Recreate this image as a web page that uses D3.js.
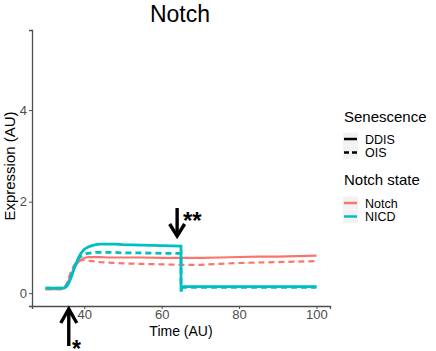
<!DOCTYPE html>
<html><head><meta charset="utf-8">
<script src="https://cdn.jsdelivr.net/npm/d3@7"></script>
<style>body{margin:0;background:#fff;} text{font-family:"Liberation Sans",Arial,sans-serif;}</style>
</head><body><svg id="c" width="436" height="351"></svg>
<script>
const time = [30,34,35,35.5,36,36.5,37,37.5,38,38.5,39,39.5,40,41,42,43,44,46,48,50,55,60,65,65.01,65.3,66,70,75,80,85,90,95,100];
const nicdDDIS = [0.11,0.11,0.12,0.15,0.22,0.32,0.44,0.56,0.67,0.77,0.85,0.91,0.96,1.01,1.04,1.06,1.07,1.07,1.07,1.06,1.05,1.04,1.03,0.03,0.14,0.145,0.145,0.145,0.145,0.145,0.145,0.145,0.145];
const nicdOIS = [0.11,0.11,0.13,0.17,0.25,0.36,0.48,0.59,0.68,0.75,0.80,0.83,0.85,0.87,0.88,0.89,0.89,0.89,0.89,0.88,0.88,0.87,0.87,0.12,0.13,0.13,0.13,0.13,0.13,0.13,0.13,0.13,0.13];
const notchDDIS = [0.09,0.09,0.11,0.18,0.28,0.38,0.48,0.56,0.63,0.68,0.72,0.75,0.77,0.79,0.79,0.79,0.79,0.78,0.78,0.78,0.78,0.77,0.77,0.77,0.77,0.77,0.77,0.78,0.79,0.80,0.80,0.81,0.82];
const notchOIS = [0.09,0.09,0.13,0.22,0.34,0.45,0.55,0.62,0.67,0.70,0.72,0.72,0.72,0.71,0.70,0.69,0.68,0.67,0.66,0.65,0.64,0.63,0.62,0.62,0.62,0.62,0.62,0.64,0.66,0.67,0.68,0.69,0.70];
const xTicks = [40,60,80,100];
const yTicks = [0,2,4];
const senescence = ["DDIS","OIS"];
const notchStates = ["Notch","NICD"];
const colors = {Notch:"#F8766D", NICD:"#00BFC4"};

const svg = d3.select("#c");
const x = d3.scaleLinear().domain([26.5,103.5]).range([32,330]);
const y = d3.scaleLinear().domain([-0.28,5.75]).range([306,30]);
const axisCol = "#4d4d4d";

const series = [
  {state:"Notch", sen:"DDIS", v:notchDDIS},
  {state:"Notch", sen:"OIS", v:notchOIS},
  {state:"NICD", sen:"DDIS", v:nicdDDIS},
  {state:"NICD", sen:"OIS", v:nicdOIS}
];
const line = d3.line().x((d,i)=>x(time[i])).y(d=>y(d));
series.forEach(s=>{
  svg.append("path").attr("d", line(s.v)).attr("fill","none")
    .attr("stroke", colors[s.state])
    .attr("stroke-width", s.state==="NICD"?2.8:2.2)
    .attr("stroke-dasharray", s.sen==="OIS"?"6,4":null);
});

const gx = svg.append("g").attr("transform","translate(0,306)")
  .call(d3.axisBottom(x).tickValues(xTicks).tickFormat(d3.format("d")).tickSize(3).tickPadding(1));
const gy = svg.append("g").attr("transform","translate(32,0)")
  .call(d3.axisLeft(y).tickValues(yTicks).tickFormat(d3.format("d")).tickSize(3).tickPadding(2));
[gx,gy].forEach(g=>{
  g.select(".domain").attr("stroke",axisCol).attr("stroke-width",1.3);
  g.selectAll(".tick line").attr("stroke",axisCol);
  g.selectAll(".tick text").attr("fill",axisCol).style("font-size","13px").style("font-family","Liberation Sans, Arial, sans-serif");
});

svg.append("text").attr("x",181).attr("y",336).attr("text-anchor","middle").style("font-size","14px").text("Time (AU)");
svg.append("text").attr("x",180).attr("y",22).attr("text-anchor","middle").style("font-size","23px").text("Notch");
svg.append("text").attr("transform","translate(15,166) rotate(-90)").attr("text-anchor","middle").style("font-size","15px").text("Expression (AU)");

function arrow(cx, y1, y2, hw, hh){
  const dir = y2<y1 ? -1 : 1;
  svg.append("line").attr("x1",cx).attr("x2",cx).attr("y1",y1).attr("y2",y2-dir*2).attr("stroke","#000").attr("stroke-width",3.4);
  svg.append("path").attr("d",`M${cx-hw},${y2-dir*hh} L${cx},${y2} L${cx+hw},${y2-dir*hh}`).attr("fill","none").attr("stroke","#000").attr("stroke-width",3.4).attr("stroke-linejoin","miter");
}
arrow(x(36.0), 346, 309, 8, 14);
svg.append("text").attr("x",72).attr("y",357).style("font-size","23px").style("font-weight","bold").text("*");
arrow(x(64), 208, 236, 7.5, 12);
svg.append("text").attr("x",183).attr("y",229).style("font-size","24px").style("font-weight","bold").text("**");

const lg = svg.append("g");
lg.append("text").attr("x",344).attr("y",122).style("font-size","15px").text("Senescence");
senescence.forEach((s,i)=>{
  const yy = 139 + i*13.5;
  lg.append("rect").attr("x",343).attr("y",yy-6.5).attr("width",15).attr("height",13).attr("fill","#f2f2f2");
  lg.append("line").attr("x1",344).attr("x2",357).attr("y1",yy).attr("y2",yy).attr("stroke","#000").attr("stroke-width",2.5)
    .attr("stroke-dasharray", s==="OIS"?"5,3":null);
  lg.append("text").attr("x",365).attr("y",yy+4.5).style("font-size","12.5px").text(s);
});
lg.append("text").attr("x",344).attr("y",185).style("font-size","15px").text("Notch state");
notchStates.forEach((s,i)=>{
  const yy = 203 + i*13.5;
  lg.append("rect").attr("x",343).attr("y",yy-6.5).attr("width",15).attr("height",13).attr("fill","#f2f2f2");
  lg.append("line").attr("x1",344).attr("x2",357).attr("y1",yy).attr("y2",yy).attr("stroke",colors[s]).attr("stroke-width",2.5);
  lg.append("text").attr("x",365).attr("y",yy+4.5).style("font-size","12.5px").text(s);
});
</script></body></html>
